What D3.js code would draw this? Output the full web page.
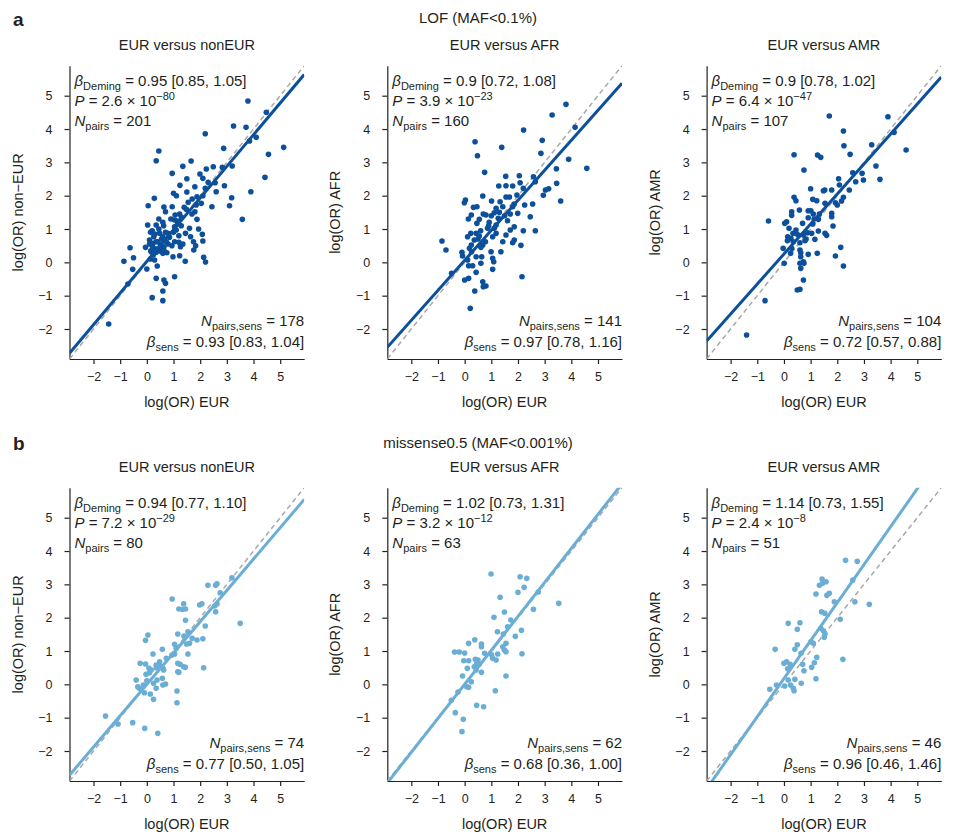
<!DOCTYPE html>
<html><head><meta charset="utf-8">
<script src="https://cdn.jsdelivr.net/npm/d3@7"></script>
<style>
body{margin:0;background:#fff;}
text{font-family:"Liberation Sans",Arial,sans-serif;fill:#231f20;}
</style></head>
<body>
<svg id="c" width="955" height="837"></svg>
<script>
// ---------- data ----------
const rowTitles = ["LOF (MAF<0.1%)", "missense0.5 (MAF<0.001%)"];
const rowLetters = ["a", "b"];
const colTitles = ["EUR versus nonEUR", "EUR versus AFR", "EUR versus AMR"];
const yTitles = ["log(OR) non\u2212EUR", "log(OR) AFR", "log(OR) AMR"];
const xTitle = "log(OR) EUR";
const tickValues = [-2, -1, 0, 1, 2, 3, 4, 5];
const axisDomain = [-2.9, 5.9];

const demingBeta = ["0.95 [0.85, 1.05]", "0.9 [0.72, 1.08]", "0.9 [0.78, 1.02]",
                    "0.94 [0.77, 1.10]", "1.02 [0.73, 1.31]", "1.14 [0.73, 1.55]"];
const pMantissa = ["2.6", "3.9", "6.4", "7.2", "3.2", "2.4"];
const pExponent = ["\u221280", "\u221223", "\u221247", "\u221229", "\u221212", "\u22128"];
const nPairs = [201, 160, 107, 80, 63, 51];
const nPairsSens = [178, 141, 104, 74, 62, 46];
const sensBeta = ["0.93 [0.83, 1.04]", "0.97 [0.78, 1.16]", "0.72 [0.57, 0.88]",
                  "0.77 [0.50, 1.05]", "0.68 [0.36, 1.00]", "0.96 [0.46, 1.46]"];
const fitSlope = [0.95, 0.9, 0.9, 0.94, 1.02, 1.14];
const fitIntercept = [0.03, 0.06, 0.25, 0.0, 0.0, 0.17];

const a1Points = [[3.79,4.84],[4.48,4.5],[3.25,4.09],[3.72,4.05],[2.19,3.86],[4.1,3.75],[3.85,3.64],[5.13,3.45],[2.88,3.42],[0.45,3.34],[4.56,3.24],[0.35,3.05],[1.66,3.04],[3.2,2.89],[1.35,2.88],[2.49,2.87],[2.83,2.85],[2.23,2.8],[0.95,2.67],[1.99,2.65],[4.43,2.55],[1.5,2.51],[2.1,2.52],[2.56,2.39],[1.24,2.31],[1.8,2.27],[2.91,2.3],[2.19,2.22],[3.9,2.12],[2.6,2.12],[1.5,2.11],[1.0,2.07],[1.11,2.0],[1.88,1.97],[3.18,1.94],[0.28,1.92],[2.04,1.77],[1.85,1.72],[0.05,1.7],[3.1,1.7],[2.44,1.67],[0.64,1.66],[0.95,1.67],[1.48,1.59],[0.7,1.52],[1.8,1.52],[1.69,1.45],[1.06,1.42],[1.23,1.45],[0.45,1.3],[3.58,1.29],[1.04,1.27],[1.16,1.24],[1.88,1.29],[0.03,1.12],[0.35,1.12],[0.63,1.1],[1.04,1.07],[1.29,1.1],[1.6,1.02],[1.1,0.97],[1.94,1.0],[0.14,0.9],[0.48,0.87],[0.79,0.87],[1.45,0.87],[2.08,0.84],[0.26,0.77],[0.6,0.77],[1.2,0.8],[1.64,0.77],[0.1,0.67],[0.35,0.62],[0.73,0.62],[1.04,0.62],[1.75,0.62],[2.1,0.64],[0.23,0.57],[0.51,0.54],[1.35,0.55],[0.94,0.5],[0.64,0.47],[-0.05,0.45],[-0.63,0.44],[0.26,0.42],[0.35,0.4],[1.26,0.47],[1.83,0.5],[0.16,0.32],[0.48,0.34],[0.75,0.29],[0.6,0.27],[1.76,0.37],[0.24,0.22],[0.98,0.17],[1.23,0.2],[0.13,0.1],[-0.5,0.14],[2.13,0.15],[1.44,0.03],[2.2,0.01],[-0.86,0.03],[0.29,0.07],[-0.53,-0.21],[0,-0.2],[0.39,-0.11],[1.04,-0.43],[0.35,-0.48],[0.64,-0.53],[0.7,-0.63],[-0.71,-0.65],[0.6,-0.86],[0.2,-1.06],[0.6,-1.15],[-1.43,-1.85],
  [0.1,0.55],[0.2,0.5],[0.4,0.62],[0.5,0.45],[0.55,0.7],[0.3,0.85],[0.45,1.0],[0.7,0.9],[0.85,0.75],[1.0,0.9],[1.15,1.15],[1.3,1.35],[0.9,1.3],[0.15,0.35],[0.35,0.3],[0.65,0.35],[0.8,0.55],[1.4,1.65],[1.7,1.9],[2.1,2.0],[2.3,2.4],[1.55,1.8],[0.2,0.95],[0.6,1.2],[1.2,0.6]];
const a2Points = [[3.8,4.74],[3.28,4.42],[2.21,3.97],[4.14,4.05],[0.39,3.62],[2.91,3.66],[1.39,3.45],[2.86,3.27],[0.48,3.2],[3.9,3.09],[4.58,2.82],[3.44,2.81],[0.75,2.7],[1.54,2.58],[2.05,2.6],[2.58,2.57],[2.65,2.42],[1.28,2.29],[1.55,2.3],[1.8,2.29],[2.08,2.39],[2.2,2.22],[3.03,2.17],[3.15,2.21],[3.45,2.37],[1.96,2.02],[2.95,2.01],[0.68,1.99],[1.55,1.96],[1.68,1.96],[0.03,1.87],[1.01,1.84],[1.33,1.82],[3.6,1.84],[-0.01,1.79],[2.25,1.72],[2.55,1.75],[1.86,1.75],[0.46,1.67],[1.8,1.67],[0.33,1.65],[1.18,1.62],[1.43,1.67],[1.11,1.49],[0.25,1.42],[0.7,1.45],[0.8,1.42],[1.71,1.45],[1.99,1.47],[2.46,1.37],[0.14,1.3],[0.55,1.29],[1.26,1.32],[1.61,1.25],[0.46,1.17],[0.92,1.2],[1.18,1.12],[1.86,1.07],[0.86,1.02],[1.11,1.02],[1.71,0.97],[2.2,0.95],[2.65,0.95],[0.23,0.87],[0.43,0.87],[1.18,0.87],[1.55,0.82],[0.11,0.77],[0.55,0.79],[1.05,0.77],[1.86,0.67],[0.36,0.67],[-0.85,0.64],[0.78,0.62],[1.43,0.62],[1.8,0.59],[0.25,0.52],[0.68,0.52],[2.11,0.51],[0.18,0.42],[0.61,0.45],[-0.7,0.37],[-0.1,0.3],[0.26,0.32],[0.99,0.32],[1.36,0.32],[0.43,0.17],[0.64,0.17],[1.05,0.12],[0.11,0.07],[1.09,0.02],[-0.08,0.19],[0.15,-0.1],[0.3,-0.1],[0.61,-0.03],[1.05,-0.21],[0.43,-0.3],[-0.49,-0.33],[0.0,-0.53],[0.15,-0.48],[2.15,-0.43],[0.68,-0.58],[0.8,-0.71],[0.7,-0.73],[0.38,-0.86],[0.21,-1.38],
  [0.5,0.7],[0.9,1.1],[1.3,1.5],[0.6,0.95],[1.0,1.4],[1.5,1.4]];
const a3Points = [[1.7,4.39],[3.9,4.37],[2.23,3.94],[4.13,3.9],[2.25,3.5],[3.29,3.53],[4.58,3.37],[0.38,3.23],[1.26,3.22],[1.38,3.15],[2.48,3.24],[3.45,2.89],[0.75,2.77],[2.58,2.69],[2.93,2.67],[2.05,2.51],[3.6,2.49],[2.69,2.42],[2.98,2.47],[2.08,2.32],[1.0,2.21],[1.53,2.17],[1.48,2.15],[1.79,2.17],[2.45,2.17],[2.23,1.95],[0.38,1.95],[0.45,1.85],[1.08,1.89],[1.23,1.85],[2.16,1.84],[1.54,1.77],[1.93,1.79],[2.0,1.72],[0.29,1.52],[0.58,1.57],[0.91,1.55],[1.01,1.55],[1.1,1.45],[1.33,1.45],[1.79,1.47],[0.29,1.41],[0.91,1.34],[1.79,1.37],[1.13,1.3],[1.29,1.29],[-0.58,1.24],[0.1,1.22],[0.7,1.17],[1.08,1.15],[1.84,1.09],[0.03,1.17],[0.19,1.02],[0.45,0.97],[1.29,0.94],[0.34,0.87],[0.45,0.87],[0.88,0.89],[1.54,0.87],[1.04,0.87],[0.14,0.77],[0.54,0.82],[0.73,0.82],[1.6,0.81],[0.26,0.72],[0.83,0.7],[1.16,0.69],[0.13,0.65],[0.35,0.62],[0.79,0.65],[0.6,0.59],[0.29,0.42],[2.13,0.45],[-0.03,0.42],[0.6,0.37],[0.63,0.29],[0.25,0.27],[0.91,0.24],[1.25,0.27],[1.93,0.19],[0.63,0.17],[0.01,-0.03],[0.73,0.02],[0.75,-0.03],[2.23,-0.11],[0.63,-0.18],[0.6,-0.03],[0.73,-0.53],[0.5,-0.83],[0.6,-0.81],[-0.71,-1.15],[-1.4,-2.18]];
const b1Points = [[3.19,3.2],[2.29,2.97],[2.58,2.97],[2.63,3.02],[2.75,2.75],[0.95,2.56],[1.38,2.42],[1.2,2.26],[1.33,2.25],[1.45,2.26],[1.98,2.38],[2.06,2.42],[2.54,2.35],[2.63,2.41],[2.58,2.18],[3.5,1.83],[1.45,1.92],[2.19,1.75],[1.16,1.51],[0.04,1.48],[1.54,1.58],[1.39,1.45],[-0.05,1.32],[1.7,1.38],[1.88,1.33],[2.1,1.37],[1.49,1.21],[1.6,1.23],[1.04,1.2],[1.1,1.08],[0.58,1.05],[0.23,0.91],[1.04,0.91],[1.54,0.91],[0.94,0.88],[0.73,0.78],[-0.25,0.63],[-0.05,0.61],[0.48,0.68],[0.35,0.58],[1.16,0.63],[1.25,0.6],[2.13,0.5],[0.08,0.48],[0.48,0.55],[0.6,0.48],[0.16,0.43],[0.35,0.5],[0.63,0.43],[1.38,0.53],[1.44,0.51],[1.16,0.38],[1.2,0.36],[-0.03,0.3],[0.1,0.35],[-0.4,0.13],[0,0.11],[0.38,0.13],[0.58,0.18],[-0.34,-0.07],[-0.28,-0.12],[-0.13,-0.02],[0.25,0.03],[0.6,-0.02],[0.7,0.01],[-0.09,-0.25],[0.13,-0.29],[0.35,-0.12],[1.13,-0.2],[0.25,-0.45],[1.13,-0.55],[-1.55,-0.95],[-1.08,-1.19],[-0.53,-1.15],[-0.08,-1.32],[0.41,-1.47]];
const b2Points = [[0.99,3.31],[2.08,3.23],[2.33,3.18],[2.23,2.91],[2.76,2.77],[2.0,2.76],[1.33,2.61],[3.53,2.43],[2.58,2.25],[1.49,2.17],[1.1,2.01],[1.73,1.93],[1.61,1.73],[2.13,1.62],[1.23,1.58],[1.45,1.51],[1.9,1.44],[0.38,1.34],[0.15,1.23],[0.63,1.21],[0.63,1.13],[1.55,1.23],[1.43,1.13],[1.49,1.03],[1.55,0.98],[-0.38,0.97],[-0.2,0.97],[0,0.94],[0.75,0.93],[1.01,0.89],[1.24,0.91],[2.15,0.92],[-0.03,0.71],[0.15,0.71],[0.4,0.75],[0.5,0.73],[1.05,0.78],[1.18,0.73],[0.46,0.63],[0.55,0.61],[0.36,0.53],[0.1,0.48],[0.63,0.36],[0.43,0.43],[-0.08,0.25],[1.55,0.25],[0.25,0.08],[0.08,-0.07],[0.15,-0.09],[1.15,-0.19],[-0.25,-0.23],[-0.5,-0.48],[0.45,-0.63],[0.71,-0.67],[-0.35,-0.85],[-0.05,-1.05],[-0.1,-1.42]];
const b3Points = [[2.31,3.72],[2.75,3.69],[1.43,3.16],[1.58,3.08],[1.45,3.03],[1.33,2.97],[2.58,3.13],[1.2,2.71],[1.61,2.67],[1.7,2.73],[1.89,2.48],[2.66,2.48],[3.2,2.4],[1.41,2.18],[1.53,2.13],[2.11,1.95],[0.16,1.83],[0.6,1.85],[0.5,1.65],[1.38,1.68],[1.48,1.61],[1.54,1.51],[1.51,1.41],[1.01,1.28],[1.1,1.23],[0.5,1.19],[-0.33,1.05],[0.41,1.05],[0.64,0.93],[1.23,0.81],[2.21,0.75],[0.1,0.68],[0,0.63],[0.23,0.6],[0.7,0.6],[1.14,0.65],[1.04,0.51],[0.14,0.47],[0.75,0.41],[1.2,0.17],[0.16,0.13],[0.41,0.15],[0.65,0.03],[-0.28,-0.02],[0.03,-0.05],[0.25,-0.02],[0.35,-0.12],[0.38,-0.19],[-0.53,-0.15]];
const panelPoints = [a1Points, a2Points, a3Points, b1Points, b2Points, b3Points];
const rowColors = ["#0c4f9b", "#6aaed6"];

// ---------- layout ----------
const svg = d3.select("#c");
const colX = [69.5, 387.3, 706.6];
const plotW = 234.7, plotH = 293.3;
const rowTop = [65.7, 487.7];

svg.append("text").attr("x", 13).attr("y", 26).text(rowLetters[0]).style("font-weight", "bold").style("font-size", "19px");
svg.append("text").attr("x", 13).attr("y", 450).text(rowLetters[1]).style("font-weight", "bold").style("font-size", "19px");
svg.append("text").attr("x", 478).attr("y", 23).attr("text-anchor", "middle").style("font-size", "15px").text(rowTitles[0]);
svg.append("text").attr("x", 478).attr("y", 448).attr("text-anchor", "middle").style("font-size", "15px").text(rowTitles[1]);

const defs = svg.append("defs");

function richText(g, x, y, parts, anchor) {
  const t = g.append("text").attr("x", x).attr("y", y).attr("text-anchor", anchor).style("font-size", "15px");
  let shift = 0;
  parts.forEach(p => {
    const ts = t.append("tspan").text(p.t);
    let target = 0;
    if (p.sub) { target = 4; ts.style("font-size", "11px"); }
    if (p.sup) { target = -6; ts.style("font-size", "11px"); }
    if (target !== shift) { ts.attr("dy", target - shift); shift = target; }
    if (p.it) ts.style("font-style", "italic");
  });
  return t;
}

for (let r = 0; r < 2; r++) {
  for (let c = 0; c < 3; c++) {
    const i = r * 3 + c;
    const x0 = colX[c], y0 = rowTop[r];
    const x = d3.scaleLinear().domain(axisDomain).range([x0, x0 + plotW]);
    const y = d3.scaleLinear().domain(axisDomain).range([y0 + plotH, y0]);
    const g = svg.append("g");
    const clipId = "clip" + i;
    defs.append("clipPath").attr("id", clipId).append("rect")
      .attr("x", x0).attr("y", y0).attr("width", plotW).attr("height", plotH);

    // subtitle
    g.append("text").attr("x", x0 + plotW / 2).attr("y", y0 - 16).attr("text-anchor", "middle")
      .style("font-size", "14.5px").text(colTitles[c]);

    // axes
    const xa = g.append("g").attr("transform", `translate(0,${y0 + plotH})`)
      .call(d3.axisBottom(x).tickValues(tickValues).tickSize(5).tickSizeOuter(0).tickPadding(8)
        .tickFormat(d => d < 0 ? "\u2212" + Math.abs(d) : d));
    const ya = g.append("g").attr("transform", `translate(${x0},0)`)
      .call(d3.axisLeft(y).tickValues(tickValues).tickSize(5).tickSizeOuter(0).tickPadding(12)
        .tickFormat(d => d < 0 ? "\u2212" + Math.abs(d) : d));
    [xa, ya].forEach(a => {
      a.selectAll("text").style("font-size", "12.5px").style("font-family", '"Liberation Sans",Arial,sans-serif').attr("fill", "#333");
      a.selectAll("path,line").attr("stroke", "#222").attr("stroke-width", 1.2);
    });

    g.append("text").attr("x", x0 + plotW / 2).attr("y", y0 + plotH + 48).attr("text-anchor", "middle")
      .style("font-size", "14.5px").text(xTitle);
    g.append("text").attr("transform", `translate(${x0 - 47},${y0 + plotH / 2}) rotate(-90)`)
      .attr("text-anchor", "middle").style("font-size", "14.5px").text(yTitles[c]);

    const pg = g.append("g").attr("clip-path", `url(#${clipId})`);
    // identity line
    pg.append("line")
      .attr("x1", x(axisDomain[0])).attr("y1", y(axisDomain[0]))
      .attr("x2", x(axisDomain[1])).attr("y2", y(axisDomain[1]))
      .attr("stroke", "#a8a8a8").attr("stroke-width", 1.5).attr("stroke-dasharray", "5,3.5");
    // points
    pg.selectAll("circle").data(panelPoints[i]).join("circle")
      .attr("cx", d => x(d[0])).attr("cy", d => y(d[1])).attr("r", 2.8)
      .attr("fill", rowColors[r]);
    // fit line
    const fx = [axisDomain[0], axisDomain[1]];
    pg.append("line")
      .attr("x1", x(fx[0])).attr("y1", y(fitIntercept[i] + fitSlope[i] * fx[0]))
      .attr("x2", x(fx[1])).attr("y2", y(fitIntercept[i] + fitSlope[i] * fx[1]))
      .attr("stroke", rowColors[r]).attr("stroke-width", 3);

    // annotations
    const lx = x0 + 5;
    richText(g, lx, y0 + 20, [{t: "\u03b2", it: true}, {t: "Deming", sub: true}, {t: " = " + demingBeta[i]}], "start");
    richText(g, lx, y0 + 40, [{t: "P", it: true}, {t: " = " + pMantissa[i] + " \u00d7 10"}, {t: pExponent[i], sup: true}], "start");
    richText(g, lx, y0 + 60, [{t: "N", it: true}, {t: "pairs", sub: true}, {t: " = " + nPairs[i]}], "start");
    const rx = x0 + plotW;
    richText(g, rx, y0 + plotH - 33, [{t: "N", it: true}, {t: "pairs,sens", sub: true}, {t: " = " + nPairsSens[i]}], "end");
    richText(g, rx, y0 + plotH - 12, [{t: "\u03b2", it: true}, {t: "sens", sub: true}, {t: " = " + sensBeta[i]}], "end");
  }
}
</script>
</body></html>
